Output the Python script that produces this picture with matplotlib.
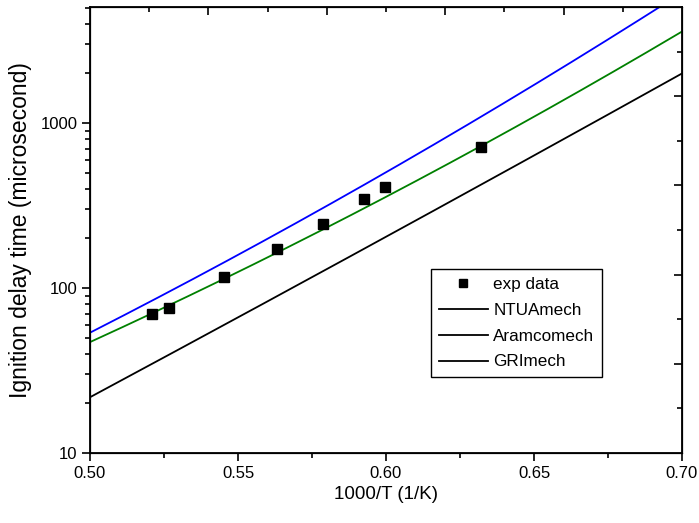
import numpy as np
import matplotlib
matplotlib.use('Agg')
import matplotlib.pyplot as plt
from matplotlib.lines import Line2D

plt.rcParams['font.family'] = ['Liberation Sans', 'DejaVu Sans']

# experimental points
exp_x = [0.5209, 0.5267, 0.5453, 0.5632, 0.5787, 0.5926, 0.5997, 0.6321]
exp_y = [69.6, 75.6, 117, 172, 244, 346, 409, 716]

# model curves
ntua_x = [0.500, 0.5348, 0.5811, 0.6412, 0.6926]
ntua_y = [54, 112, 323, 1378, 5050]

aramco_x = [0.500, 0.5446, 0.5811, 0.6321, 0.6591, 0.700]
aramco_y = [47.1, 112, 238, 716, 1378, 3560]

gri_x = [0.500, 0.5733, 0.5811, 0.6834, 0.700]
gri_y = [21.8, 112, 133, 1378, 1982]


def smooth(xs, ys, n=200):
    # quadratic fit in log space, goes through the read points closely
    c = np.polyfit(xs, np.log10(ys), 2)
    xx = np.linspace(min(xs), max(xs), n)
    return xx, 10 ** np.polyval(c, xx)


fig = plt.figure(figsize=(6.99, 5.23), dpi=100)
ax = fig.add_axes([90 / 699, 1 - 453 / 523, 592 / 699, 446 / 523])

xx, yy = smooth(ntua_x, ntua_y)
ax.plot(xx, yy, color='#0000ff', lw=1.3)
xx, yy = smooth(aramco_x, aramco_y)
ax.plot(xx, yy, color='#008000', lw=1.3)
xx, yy = smooth(gri_x, gri_y)
ax.plot(xx, yy, color='black', lw=1.3)
ax.plot(exp_x, exp_y, 's', color='black', ms=7, ls='none')

ax.set_yscale('log')
ax.set_xlim(0.50, 0.70)
ax.set_ylim(10, 5050)
ax.set_xticks([0.50, 0.55, 0.60, 0.65, 0.70])
ax.set_xticks([0.525, 0.575, 0.625, 0.675], minor=True)
ax.set_xticklabels(['0.50', '0.55', '0.60', '0.65', '0.70'])
ax.set_yticks([10, 100, 1000])
ax.set_yticklabels(['10', '100', '1000'])
ax.tick_params(which='major', direction='out', length=6, width=1.2, labelsize=12, pad=3)
ax.tick_params(which='minor', direction='out', length=3.5, width=1.2)
ax.tick_params(top=False, right=False, which='both')
for s in ax.spines.values():
    s.set_linewidth(1.3)

ax.set_xlabel('1000/T (1/K)', fontsize=13.5, labelpad=4)
ax.set_ylabel('Ignition delay time (microsecond)', fontsize=16.5, labelpad=6)

# top axis ticks (inward, own spacing)
axt = ax.twiny()
axt.set_xlim(0.50, 0.70)
axt.set_xticks([0.54, 0.58, 0.62, 0.66])
axt.set_xticks([0.52, 0.56, 0.60, 0.64, 0.68], minor=True)
axt.tick_params(which='major', direction='in', length=6, width=1.2, labeltop=False)
axt.tick_params(which='minor', direction='in', length=3.5, width=1.2)

# right axis ticks (linear, inward)
axr = ax.twinx()
axr.set_ylim(0, 10)
axr.set_yticks([2, 4, 6, 8])
axr.set_yticks([1, 3, 5, 7, 9], minor=True)
axr.tick_params(which='major', direction='in', length=6, width=1.2, labelright=False)
axr.tick_params(which='minor', direction='in', length=3.5, width=1.2)

handles = [
    Line2D([], [], marker='s', color='black', ls='none', ms=6),
    Line2D([], [], color='black', lw=1.3),
    Line2D([], [], color='black', lw=1.3),
    Line2D([], [], color='black', lw=1.3),
]
labels = ['exp data', 'NTUAmech', 'Aramcomech', 'GRImech']
leg = axr.legend(handles, labels, loc='lower left', bbox_to_anchor=(0.576, 0.170),
                 borderaxespad=0, fancybox=False, edgecolor='black', fontsize=12.3,
                 handlelength=2.9, handletextpad=0.3, labelspacing=0.64,
                 borderpad=0.45, framealpha=1)
leg.get_frame().set_linewidth(1.0)

fig.savefig('out.png', dpi=100)
